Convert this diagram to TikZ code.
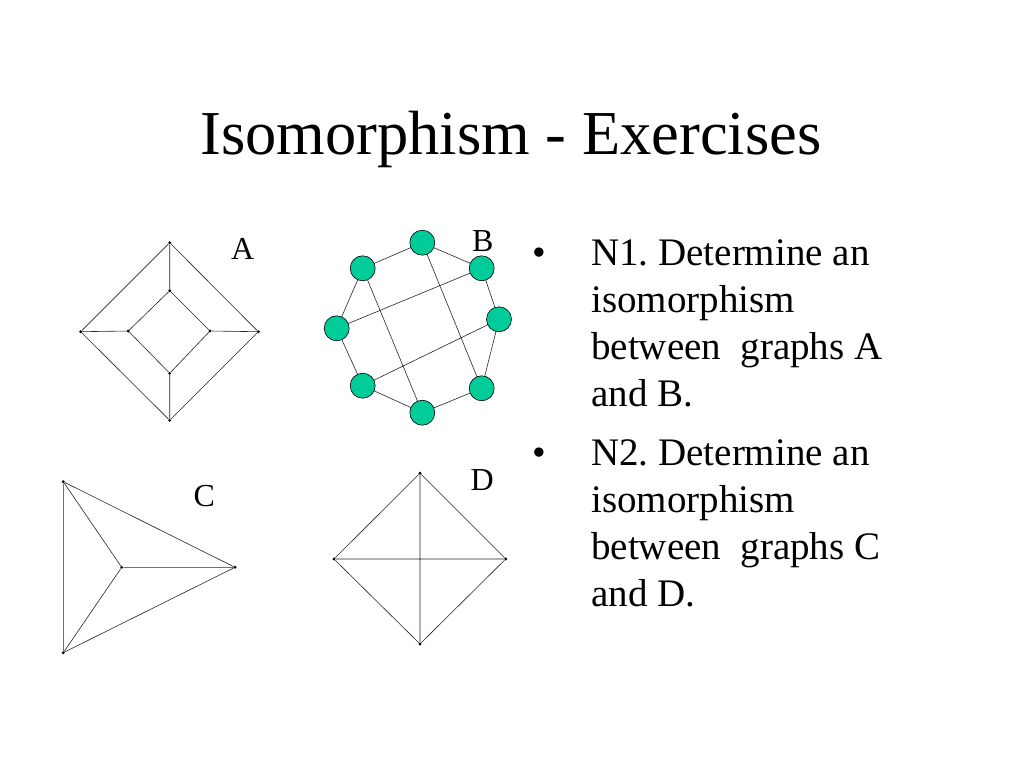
\documentclass[tikz,border=0pt]{standalone}
\usepackage{fontspec}
\setmainfont{Liberation Serif}
\definecolor{bnode}{HTML}{00CC99}
\frenchspacing
\begin{document}
\begin{tikzpicture}[x=1pt,y=-1pt,
  dot/.style={circle,fill=black,inner sep=0pt,minimum size=3.2pt},
  bv/.style={circle,draw=black,line width=0.6pt,fill=bnode,inner sep=0pt,minimum size=25pt},
  edge/.style={draw=black!85,line width=0.6pt},
  lbl/.style={anchor=base west,inner sep=0pt,font=\fontsize{32}{32}\selectfont},
  bullet/.style={anchor=base,inner sep=0pt,font=\fontsize{39}{39}\selectfont},
  body/.style={anchor=base west,inner sep=0pt,align=left,font=\fontsize{39}{47}\selectfont\frenchspacing}]
\useasboundingbox (0,0) rectangle (1024,768);
\fill[white] (0,0) rectangle (1024,768);
% title
\node[anchor=base,inner sep=0pt,font=\fontsize{62.5}{62.5}\selectfont] (title) at (511,154.5) {Isomorphism - Exercises};
% graph A
\node[dot] (ao1) at (169.7,242.7) {};
\node[dot] (ao2) at (80.7,331.7) {};
\node[dot] (ao3) at (169.7,420.3) {};
\node[dot] (ao4) at (258.3,331.7) {};
\node[dot] (ai1) at (169.7,290.7) {};
\node[dot] (ai2) at (128.3,331) {};
\node[dot] (ai3) at (169.7,373.3) {};
\node[dot] (ai4) at (210,331) {};
\draw[edge] (ao1)--(ao2)--(ao3)--(ao4)--(ao1);
\draw[edge] (ai1)--(ai2)--(ai3)--(ai4)--(ai1);
\draw[edge] (ao1)--(ai1) (ao2)--(ai2) (ao3)--(ai3) (ao4)--(ai4);
\node[lbl] (la) at (231,259.7) {A};
% graph B
\coordinate (p1) at (422.3,242.7);
\coordinate (p2) at (362.7,268.3);
\coordinate (p3) at (481.7,268.3);
\coordinate (p4) at (336.7,328.3);
\coordinate (p5) at (499,319.3);
\coordinate (p6) at (362.7,385.7);
\coordinate (p7) at (481.7,388.3);
\coordinate (p8) at (422.3,412.7);
\draw[edge] (p1)--(p2) (p1)--(p3) (p2)--(p4) (p3)--(p5) (p4)--(p6) (p5)--(p7) (p6)--(p8) (p7)--(p8);
\draw[edge] (p2)--(p8) (p1)--(p7) (p4)--(p3) (p6)--(p5);
\foreach \i in {1,...,8} \node[bv] (b\i) at (p\i) {};
\node[lbl] (lb) at (472,251.7) {B};
% graph C
\node[dot] (c1) at (63.3,481.7) {};
\node[dot] (c2) at (121.7,567.3) {};
\node[dot] (c3) at (235,567.3) {};
\node[dot] (c4) at (63.3,652.7) {};
\draw[edge] (c1)--(c4) (c1)--(c2) (c1)--(c3) (c2)--(c3) (c2)--(c4) (c4)--(c3);
\node[lbl] (lc) at (193.5,506.7) {C};
% graph D
\node[dot] (d1) at (420,473.3) {};
\node[dot] (d2) at (334,559) {};
\node[dot] (d3) at (505.7,559) {};
\node[dot] (d4) at (420,644) {};
\draw[edge] (d1)--(d2)--(d4)--(d3)--(d1) (d1)--(d4) (d2)--(d3);
\node[lbl] (ld) at (470.5,490.7) {D};
% text
\node[bullet] (bul1) at (539,265) {•};
\node[body] (n1) at (591,406.5) {N1. Determine an\\isomorphism\\between\ \ graphs A\\and B.};
\node[bullet] (bul2) at (539,465) {•};
\node[body] (n2) at (591,606) {N2. Determine an\\isomorphism\\between\ \ graphs C\\and D.};
\end{tikzpicture}
\end{document}
